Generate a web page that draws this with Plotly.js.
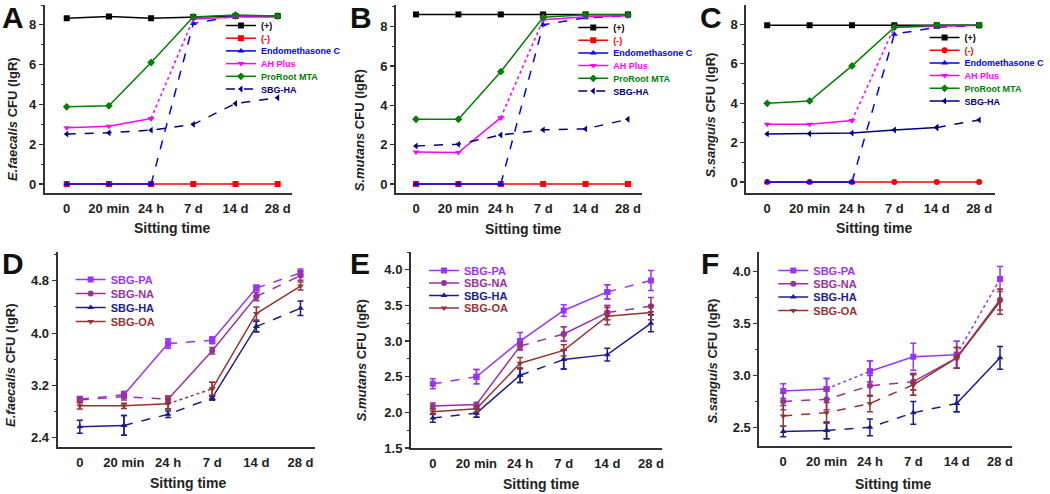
<!DOCTYPE html>
<html>
<head>
<meta charset="utf-8">
<script src="https://cdn.plot.ly/plotly-3.0.1.min.js"></script>
<style>html,body{margin:0;padding:0;background:#fff;}#chart{width:1050px;height:494px;}</style>
</head>
<body>
<div id="chart"></div>
<script>
// ---------- categories ----------
const cats = ['0', '20 min', '24 h', '7 d', '14 d', '28 d'];

// ---------- Panel A: E. faecalis ----------
const faecPos  = [8.33, 8.42, 8.33, 8.40, 8.45, 8.45];
const faecNeg  = [0, 0, 0, 0, 0, 0];
const faecEndo = [0, 0, 0, 8.07, 8.45, 8.42];
const faecAH   = [2.83, 2.91, 3.30, 8.30, 8.40, 8.40];
const faecMTA  = [3.88, 3.93, 6.11, 8.40, 8.50, 8.45];
const faecSBG  = [2.51, 2.58, 2.71, 3.00, 4.05, 4.34];

// ---------- Panel B: S. mutans ----------
const mutPos  = [8.62, 8.62, 8.62, 8.62, 8.62, 8.62];
const mutNeg  = [0, 0, 0, 0, 0, 0];
const mutEndo = [0, 0, 0, 8.09, 8.45, 8.55];
const mutAH   = [1.62, 1.60, 3.37, 8.35, 8.50, 8.55];
const mutMTA  = [3.29, 3.29, 5.71, 8.48, 8.60, 8.60];
const mutSBG  = [1.93, 2.02, 2.49, 2.75, 2.80, 3.29];

// ---------- Panel C: S. sanguis ----------
const sangPos  = [7.95, 7.95, 7.95, 7.95, 7.95, 7.95];
const sangNeg  = [0, 0, 0, 0, 0, 0];
const sangEndo = [0, 0, 0, 7.50, 7.85, 7.95];
const sangAH   = [2.93, 2.93, 3.12, 7.85, 7.90, 7.95];
const sangMTA  = [3.99, 4.11, 5.89, 7.85, 7.95, 7.95];
const sangSBG  = [2.44, 2.45, 2.48, 2.64, 2.76, 3.15];

// ---------- Panel D: E. faecalis, SBG variants ----------
const dPA = [2.99, 3.06, 3.84, 3.89, 4.69, 4.92];
const dPAerr = [0.04, 0.05, 0.07, 0.05, 0.04, 0.06];
const dNA = [2.98, 3.03, 2.99, 3.73, 4.56, 4.88];
const dNAerr = [0.04, 0.05, 0.05, 0.05, 0.06, 0.07];
const dHA = [2.57, 2.59, 2.76, 3.01, 4.10, 4.38];
const dHAerr = [0.10, 0.15, 0.05, 0.03, 0.08, 0.11];
const dOA = [2.89, 2.89, 2.92, 3.15, 4.30, 4.72];
const dOAerr = [0.05, 0.04, 0.08, 0.10, 0.10, 0.06];

// ---------- Panel E: S. mutans, SBG variants ----------
const ePA = [2.40, 2.50, 3.00, 3.43, 3.69, 3.85];
const ePAerr = [0.07, 0.10, 0.12, 0.08, 0.10, 0.14];
const eNA = [2.09, 2.11, 2.93, 3.10, 3.40, 3.49];
const eNAerr = [0.04, 0.03, 0.05, 0.10, 0.10, 0.12];
const eHA = [1.92, 1.99, 2.52, 2.74, 2.81, 3.25];
const eHAerr = [0.06, 0.06, 0.10, 0.13, 0.09, 0.12];
const eOA = [2.01, 2.05, 2.69, 2.87, 3.35, 3.40];
const eOAerr = [0.04, 0.04, 0.08, 0.08, 0.12, 0.10];

// ---------- Panel F: S. sanguis, SBG variants ----------
const fPA = [2.85, 2.87, 3.04, 3.18, 3.20, 3.93];
const fPAerr = [0.07, 0.10, 0.10, 0.13, 0.13, 0.12];
const fNA = [2.75, 2.77, 2.90, 2.94, 3.17, 3.73];
const fNAerr = [0.08, 0.10, 0.10, 0.08, 0.10, 0.10];
const fHA = [2.46, 2.47, 2.50, 2.64, 2.73, 3.17];
const fHAerr = [0.05, 0.08, 0.08, 0.11, 0.08, 0.11];
const fOA = [2.61, 2.64, 2.73, 2.91, 3.17, 3.71];
const fOAerr = [0.10, 0.10, 0.08, 0.10, 0.10, 0.12];

// ---------- labels ----------
const topNames = ['(+)', '(-)', 'Endomethasone C', 'AH Plus', 'ProRoot MTA', 'SBG-HA'];
const botNames = ['SBG-PA', 'SBG-NA', 'SBG-HA', 'SBG-OA'];
const panelLetters = ['A', 'B', 'C', 'D', 'E', 'F'];
const yTitles = ['<i>E.faecalis</i> CFU (lgR)', '<i>S.mutans</i> CFU (lgR)', '<i>S.sanguis</i> CFU (lgR)',
                 '<i>E.faecalis</i> CFU (lgR)', '<i>S.mutans</i> CFU (lgR)', '<i>S.sanguis</i> CFU (lgR)'];
const xTitle = 'Sitting time';

// ---------- styles ----------
const topColors = ['#000000', '#ff0000', '#0000ff', '#ff00ff', '#008000', '#00007f'];
const topSymbols = ['square', 'square', 'triangle-up', 'triangle-down', 'diamond', 'triangle-left'];
const botColors = ['#9933ff', '#993399', '#1c1c8f', '#993333'];
const botSymbols = ['square', 'circle', 'triangle-up', 'triangle-down'];

const traces = [];
function addSeries(axN, vals, err, name, color, symbol, dashes, legendId) {
  const xa = axN === 1 ? 'x' : 'x' + axN;
  const ya = axN === 1 ? 'y' : 'y' + axN;
  const d = Array.isArray(dashes) ? dashes : [dashes, dashes, dashes, dashes, dashes];
  const runs = [];
  let s = 0;
  for (let i = 1; i <= d.length; i++) {
    if (i === d.length || d[i] !== d[s]) { runs.push([s, i, d[s]]); s = i; }
  }
  let legRun = runs.findIndex(r => r[2] === 'solid');
  if (legRun < 0) legRun = 0;
  const built = runs.map((r, k) => {
    const tr = {
      type: 'scatter', mode: 'lines+markers', xaxis: xa, yaxis: ya,
      x: cats.slice(r[0], r[1] + 1), y: vals.slice(r[0], r[1] + 1),
      name: '<span style="color:' + color + '">' + name + '</span>',
      legend: legendId, showlegend: k === legRun,
      line: {color: color, width: 1.5, dash: r[2]},
      marker: {color: color, symbol: symbol, size: 6},
      hoverinfo: 'x+y'
    };
    if (err) tr.error_y = {type: 'data', array: err.slice(r[0], r[1] + 1), visible: true, color: color, thickness: 1.5, width: 3};
    return tr;
  });
  traces.push(built[legRun]);
  built.forEach((t, k) => { if (k !== legRun) traces.push(t); });
}

// Panel A
addSeries(1, faecPos, null, topNames[0], topColors[0], topSymbols[0], 'solid', 'legend');
addSeries(1, faecNeg, null, topNames[1], topColors[1], topSymbols[1], 'solid', 'legend');
addSeries(1, faecEndo, null, topNames[2], topColors[2], topSymbols[2], ['solid','solid','dash','dash','dash'], 'legend');
addSeries(1, faecAH, null, topNames[3], topColors[3], topSymbols[3], ['solid','solid','dot','solid','solid'], 'legend');
addSeries(1, faecMTA, null, topNames[4], topColors[4], topSymbols[4], 'solid', 'legend');
addSeries(1, faecSBG, null, topNames[5], topColors[5], topSymbols[5], 'dash', 'legend');
// Panel B
addSeries(2, mutPos, null, topNames[0], topColors[0], topSymbols[0], 'solid', 'legend2');
addSeries(2, mutNeg, null, topNames[1], topColors[1], topSymbols[1], 'solid', 'legend2');
addSeries(2, mutEndo, null, topNames[2], topColors[2], topSymbols[2], ['solid','solid','dash','dash','dash'], 'legend2');
addSeries(2, mutAH, null, topNames[3], topColors[3], topSymbols[3], ['solid','solid','dot','solid','solid'], 'legend2');
addSeries(2, mutMTA, null, topNames[4], topColors[4], topSymbols[4], 'solid', 'legend2');
addSeries(2, mutSBG, null, topNames[5], topColors[5], topSymbols[5], 'dash', 'legend2');
// Panel C
addSeries(3, sangPos, null, topNames[0], topColors[0], topSymbols[0], 'solid', 'legend3');
addSeries(3, sangNeg, null, topNames[1], topColors[1], 'circle', 'solid', 'legend3');
addSeries(3, sangEndo, null, topNames[2], topColors[2], topSymbols[2], ['solid','solid','dash','dash','dash'], 'legend3');
addSeries(3, sangAH, null, topNames[3], topColors[3], topSymbols[3], ['solid','solid','dot','solid','solid'], 'legend3');
addSeries(3, sangMTA, null, topNames[4], topColors[4], topSymbols[4], 'solid', 'legend3');
addSeries(3, sangSBG, null, topNames[5], topColors[5], topSymbols[5], ['solid','solid','solid','solid','dash'], 'legend3');
// Panel D
addSeries(4, dPA, dPAerr, botNames[0], botColors[0], botSymbols[0], ['dash','solid','dash','solid','dash'], 'legend4');
addSeries(4, dNA, dNAerr, botNames[1], botColors[1], botSymbols[1], ['dash','dash','solid','solid','dash'], 'legend4');
addSeries(4, dHA, dHAerr, botNames[2], botColors[2], botSymbols[2], ['solid','dash','dash','solid','dash'], 'legend4');
addSeries(4, dOA, dOAerr, botNames[3], botColors[3], botSymbols[3], ['solid','solid','dot','solid','solid'], 'legend4');
// Panel E
addSeries(5, ePA, ePAerr, botNames[0], botColors[0], botSymbols[0], ['dash','solid','solid','solid','dash'], 'legend5');
addSeries(5, eNA, eNAerr, botNames[1], botColors[1], botSymbols[1], ['solid','solid','dash','solid','dash'], 'legend5');
addSeries(5, eHA, eHAerr, botNames[2], botColors[2], botSymbols[2], ['dash','solid','dash','solid','solid'], 'legend5');
addSeries(5, eOA, eOAerr, botNames[3], botColors[3], botSymbols[3], 'solid', 'legend5');
// Panel F
addSeries(6, fPA, fPAerr, botNames[0], botColors[0], botSymbols[0], ['solid','dot','solid','solid','dot'], 'legend6');
addSeries(6, fNA, fNAerr, botNames[1], botColors[1], botSymbols[1], ['dash','dash','dash','solid','solid'], 'legend6');
addSeries(6, fHA, fHAerr, botNames[2], botColors[2], botSymbols[2], ['solid','dash','dash','dash','solid'], 'legend6');
addSeries(6, fOA, fOAerr, botNames[3], botColors[3], botSymbols[3], ['dash','dash','dash','solid','solid'], 'legend6');

// ---------- layout ----------
const W = 1050, H = 494;
const FONT = 'Liberation Sans, Arial, sans-serif';
const px = v => v / W;
const py = v => 1 - v / H;

const panels = [
  {l: 45,  r: 293,  t: 5,   b: 193, xr: [-0.52, 5.33], yr: [-0.45, 9.0],  dt: 2,   mdt: 1,    fmt: 'd'},
  {l: 398, r: 645,  t: 5,   b: 193, xr: [-0.47, 5.33], yr: [-0.46, 9.1],  dt: 2,   mdt: 1,    fmt: 'd'},
  {l: 750, r: 1000, t: 5,   b: 193, xr: [-0.49, 5.38], yr: [-0.56, 8.98], dt: 2,   mdt: 1,    fmt: 'd'},
  {l: 58,  r: 317,  t: 252, b: 447, xr: [-0.5, 5.34],  yr: [2.26, 5.24],  dt: 0.8, mdt: 0.4,  fmt: '.1f', t0: 2.4},
  {l: 413, r: 665,  t: 252, b: 448, xr: [-0.5, 5.25],  yr: [1.5, 4.25],   dt: 0.5, mdt: 0.25, fmt: '.1f', t0: 1.5},
  {l: 763, r: 1017, t: 252, b: 446, xr: [-0.55, 5.28], yr: [2.32, 4.19],  dt: 0.5, mdt: 0.25, fmt: '.1f', t0: 2.5}
];

const layout = {
  width: W, height: H,
  margin: {l: 0, r: 0, t: 0, b: 0},
  paper_bgcolor: '#ffffff', plot_bgcolor: 'rgba(0,0,0,0)',
  font: {family: FONT, color: '#222'},
  hovermode: 'closest',
  annotations: [], showlegend: true
};

panels.forEach((p, i) => {
  const n = i + 1;
  const xk = n === 1 ? 'xaxis' : 'xaxis' + n;
  const yk = n === 1 ? 'yaxis' : 'yaxis' + n;
  layout[xk] = {
    domain: [px(p.l), px(p.r)], anchor: n === 1 ? 'y' : 'y' + n,
    type: 'category', categoryorder: 'array', categoryarray: cats,
    range: p.xr, showgrid: false, zeroline: false,
    showline: true, linewidth: 2, linecolor: '#333', mirror: false,
    ticks: 'outside', ticklen: 2, tickcolor: 'rgba(0,0,0,0)',
    tickfont: {family: FONT, size: 13, weight: 'bold', color: '#222'}
  };
  layout[yk] = {
    domain: [py(p.b), py(p.t)], anchor: n === 1 ? 'x' : 'x' + n,
    range: p.yr, showgrid: false, zeroline: false,
    showline: true, linewidth: 2, linecolor: '#333', mirror: false,
    ticks: 'outside', ticklen: 4, tickwidth: 1.2, tickcolor: '#333',
    dtick: p.dt, tick0: p.t0 !== undefined ? p.t0 : 0, tickformat: p.fmt,
    minor: {ticks: 'outside', ticklen: 2, tickwidth: 1, tickcolor: '#333', dtick: p.mdt, tick0: p.t0 !== undefined ? p.t0 : 0},
    tickfont: {family: FONT, size: 13, weight: 'bold', color: '#222'}
  };
});

// legends: top-left position and the reference's row spacing
const legendPos = [
  {x: 222, y: 11, sp: 12.7}, {x: 576, y: 13, sp: 12.7}, {x: 929, y: 23, sp: 12.7},
  {x: 71, y: 265, sp: 14}, {x: 426, y: 256, sp: 12.5}, {x: 777, y: 256, sp: 13.3}
];
legendPos.forEach((lp, i) => {
  const key = i === 0 ? 'legend' : 'legend' + (i + 1);
  layout[key] = {
    x: px(lp.x), y: py(lp.y), xanchor: 'left', yanchor: 'top',
    bgcolor: 'rgba(0,0,0,0)', borderwidth: 0, traceorder: 'normal',
    font: {family: FONT, size: i < 3 ? 9 : 11, weight: 'bold'},
    itemwidth: 30, tracegroupgap: 0
  };
});

// panel letters, axis titles
const letterPos = [[1, 0], [351, 0], [702, 0], [1, 246], [351, 246], [703, 246]];
const yTitlePos = [[12, 119], [362, 130], [713, 115], [10, 365], [363, 360], [715, 361]];
const xTitlePos = [[173, 228], [525, 229], [878, 228], [189, 483], [544, 484], [897, 484]];
panelLetters.forEach((L, i) => {
  layout.annotations.push({
    text: '<b>' + L + '</b>', x: px(letterPos[i][0]), y: py(letterPos[i][1]), xref: 'paper', yref: 'paper',
    showarrow: false, xanchor: 'left', yanchor: 'top', borderpad: 0, font: {family: FONT, size: 30, color: '#111'}
  });
  layout.annotations.push({
    text: '<b>' + yTitles[i] + '</b>', x: px(yTitlePos[i][0]), y: py(yTitlePos[i][1]), xref: 'paper', yref: 'paper',
    showarrow: false, textangle: -90, xanchor: 'center', yanchor: 'middle', font: {family: FONT, size: 13, color: '#222'}
  });
  layout.annotations.push({
    text: '<b>' + xTitle + '</b>', x: px(xTitlePos[i][0]), y: py(xTitlePos[i][1]), xref: 'paper', yref: 'paper',
    showarrow: false, xanchor: 'center', yanchor: 'middle', font: {family: FONT, size: 14, color: '#222'}
  });
});

function tightenLegends(gd) {
  legendPos.forEach((lp, i) => {
    const cls = i === 0 ? 'legend' : 'legend' + (i + 1);
    const lg = gd.querySelector('g.' + cls);
    if (!lg) return;
    const items = lg.querySelectorAll('g.traces');
    let y0 = null;
    items.forEach((el, k) => {
      const tf = el.getAttribute('transform') || '';
      const m = tf.match(/translate\(\s*([-\d.eE]+)[ ,]+([-\d.eE]+)\s*\)/);
      if (!m) return;
      const x = parseFloat(m[1]), y = parseFloat(m[2]);
      if (y0 === null) y0 = y;
      el.setAttribute('transform', 'translate(' + x + ',' + (y0 + k * lp.sp) + ')');
    });
  });
}

Plotly.newPlot('chart', traces, layout, {displayModeBar: false, responsive: false, staticPlot: true})
  .then(gd => tightenLegends(gd));
</script>
</body>
</html>
